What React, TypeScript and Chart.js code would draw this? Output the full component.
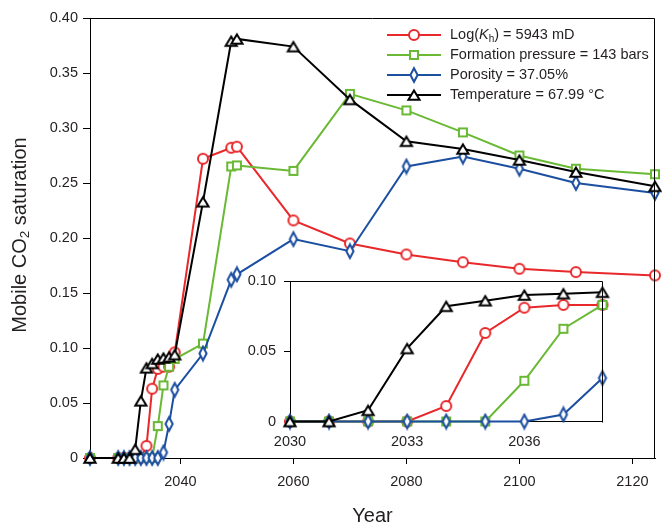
import React, { useEffect, useRef } from "react";
import { Chart, registerables } from "chart.js";

Chart.register(...registerables);

// Simulation output years and mobile CO2 saturation for each sensitivity case
const years = [2024, 2029, 2030, 2031, 2032, 2033, 2034, 2035, 2036, 2037, 2038, 2039, 2044, 2049, 2050, 2060, 2070, 2080, 2090, 2100, 2110, 2124];
const logKh = [0, 0, 0, 0, 0, 0, 0.011, 0.063, 0.081, 0.083, 0.083, 0.096, 0.272, 0.282, 0.283, 0.216, 0.195, 0.185, 0.178, 0.172, 0.169, 0.166];
const formationPressure = [0, 0, 0, 0, 0, 0, 0, 0, 0.029, 0.066, 0.083, 0.090, 0.104, 0.265, 0.266, 0.261, 0.331, 0.316, 0.296, 0.275, 0.263, 0.258];
const porosity = [0, 0, 0, 0, 0, 0, 0, 0, 0, 0.005, 0.031, 0.062, 0.095, 0.162, 0.167, 0.199, 0.188, 0.265, 0.274, 0.263, 0.250, 0.241];
const temperature = [0, 0, 0, 0, 0.008, 0.052, 0.082, 0.086, 0.090, 0.091, 0.092, 0.094, 0.233, 0.379, 0.381, 0.374, 0.326, 0.288, 0.281, 0.271, 0.260, 0.247];

// Axis ranges and tick labels
const xMin = 2024;
const xMax = 2124;
const xTicks = [2040, 2060, 2080, 2100, 2120];
const yMax = 0.4;
const yStep = 0.05;

// Zoomed-in view of the breakthrough period
const insetMin = 2030;
const insetMax = 2038;
const insetXTicks = [2030, 2033, 2036];
const insetYMax = 0.1;

const W = 662;
const H = 527;
const FONT = '"Liberation Sans", Arial, Helvetica, sans-serif';
const TEXT = "#231f20";

type MarkerKind = "circle" | "square" | "diamond" | "triangle";

const series = [
  { key: "logKh", values: logKh, color: "#e8282b", marker: "circle" as MarkerKind, order: 4 },
  { key: "pressure", values: formationPressure, color: "#6ab934", marker: "square" as MarkerKind, order: 3 },
  { key: "porosity", values: porosity, color: "#1c4fa0", marker: "diamond" as MarkerKind, order: 2 },
  { key: "temperature", values: temperature, color: "#000000", marker: "triangle" as MarkerKind, order: 1 },
];

function makeMarker(kind: MarkerKind, color: string): HTMLCanvasElement {
  const c = document.createElement("canvas");
  let w = 14, h = 14;
  if (kind === "square") { w = 12; h = 12; }
  if (kind === "diamond") { w = 12; h = 18; }
  if (kind === "triangle") { w = 16; h = 14; }
  c.width = w;
  c.height = h;
  const ctx = c.getContext("2d")!;
  ctx.lineWidth = 2;
  ctx.strokeStyle = color;
  ctx.fillStyle = "#ffffff";
  ctx.lineJoin = "miter";
  ctx.beginPath();
  if (kind === "circle") {
    ctx.arc(7, 7, 5, 0, Math.PI * 2);
  } else if (kind === "square") {
    ctx.rect(2, 2, 8, 8);
  } else if (kind === "diamond") {
    ctx.moveTo(6, 2.2);
    ctx.lineTo(9.6, 9);
    ctx.lineTo(6, 15.8);
    ctx.lineTo(2.4, 9);
    ctx.closePath();
  } else {
    ctx.moveTo(8, 2.5);
    ctx.lineTo(13.6, 11.8);
    ctx.lineTo(2.4, 11.8);
    ctx.closePath();
  }
  ctx.fill();
  ctx.stroke();
  return c;
}

function yLabel(v: number | string) {
  const n = Number(v);
  return Math.abs(n) < 1e-9 ? "0" : n.toFixed(2);
}

// Top and right edges of the plotting box
const frame = {
  id: "frame",
  afterDraw(chart: any) {
    const { ctx, chartArea: a } = chart;
    ctx.save();
    ctx.strokeStyle = "#000";
    ctx.lineWidth = 1;
    ctx.beginPath();
    ctx.moveTo(Math.round(a.left) + 0.5, Math.round(a.top) + 0.5);
    ctx.lineTo(Math.round(a.right) - 0.5, Math.round(a.top) + 0.5);
    ctx.lineTo(Math.round(a.right) - 0.5, Math.round(a.bottom) + 0.5);
    ctx.stroke();
    ctx.restore();
  },
};

function drawRuns(ctx: CanvasRenderingContext2D, x: number, y: number, runs: { t: string; font: string; dy?: number }[]) {
  let cx = x;
  for (const r of runs) {
    ctx.font = r.font;
    ctx.fillText(r.t, cx, y + (r.dy || 0));
    cx += ctx.measureText(r.t).width;
  }
  return cx - x;
}

function measureRuns(ctx: CanvasRenderingContext2D, runs: { t: string; font: string }[]) {
  let w = 0;
  for (const r of runs) {
    ctx.font = r.font;
    w += ctx.measureText(r.t).width;
  }
  return w;
}

export default function App() {
  const mainRef = useRef<HTMLCanvasElement>(null);
  const insetRef = useRef<HTMLCanvasElement>(null);

  useEffect(() => {
    const markers = series.map((s) => makeMarker(s.marker, s.color));
    const f14 = `14.5px ${FONT}`;
    const f14i = `italic 14.5px ${FONT}`;
    const f10 = `10px ${FONT}`;
    const f20 = `20px ${FONT}`;
    const f13 = `13.5px ${FONT}`;

    const legendRows = [
      [
        { t: "Log(", font: f14 },
        { t: "K", font: f14i },
        { t: "h", font: f10, dy: 4 },
        { t: ") = 5943 mD", font: f14 },
      ],
      [{ t: "Formation pressure = 143 bars", font: f14 }],
      [{ t: "Porosity = 37.05%", font: f14 }],
      [{ t: "Temperature = 67.99 °C", font: f14 }],
    ];

    const legendAndTitles = {
      id: "legendAndTitles",
      afterDraw(chart: any) {
        const ctx: CanvasRenderingContext2D = chart.ctx;
        const a = chart.chartArea;
        ctx.save();
        // legend
        legendRows.forEach((runs, i) => {
          const y = 35 + i * 20;
          const s = series[i];
          ctx.strokeStyle = s.color;
          ctx.lineWidth = 2;
          ctx.beginPath();
          ctx.moveTo(387, y);
          ctx.lineTo(441, y);
          ctx.stroke();
          const m = markers[i];
          ctx.drawImage(m, Math.round(414 - m.width / 2), Math.round(y - m.height / 2));
          ctx.fillStyle = TEXT;
          ctx.textBaseline = "middle";
          ctx.textAlign = "left";
          drawRuns(ctx, 450, y, runs);
        });
        // x title
        ctx.fillStyle = TEXT;
        ctx.font = f20;
        ctx.textAlign = "center";
        ctx.textBaseline = "middle";
        ctx.fillText("Year", (a.left + a.right) / 2, 516);
        // y title with subscript
        const yRuns = [
          { t: "Mobile CO", font: f20 },
          { t: "2", font: f13, dy: 5 },
          { t: " saturation", font: f20 },
        ];
        ctx.translate(20, 235);
        ctx.rotate(-Math.PI / 2);
        ctx.textAlign = "left";
        const tw = measureRuns(ctx, yRuns);
        drawRuns(ctx, -tw / 2, 0, yRuns);
        ctx.restore();
      },
    };

    const tickFont = { family: FONT, size: 14.5 };

    const main = new Chart(mainRef.current!, {
      type: "line",
      data: {
        datasets: series.map((s, i) => ({
          label: s.key,
          data: years.map((x, j) => ({ x, y: s.values[j] })),
          borderColor: s.color,
          backgroundColor: "#ffffff",
          borderWidth: 2,
          pointStyle: markers[i],
          pointRadius: 5,
          tension: 0,
          clip: false as any,
          order: s.order,
        })),
      },
      options: {
        responsive: false,
        animation: false,
        devicePixelRatio: 1,
        events: [],
        layout: { padding: { left: 0, right: 3, top: 18, bottom: 0 } },
        plugins: { legend: { display: false }, tooltip: { enabled: false } },
        scales: {
          x: {
            type: "linear",
            min: xMin,
            max: xMax,
            afterBuildTicks: (s: any) => {
              s.ticks = xTicks.map((v) => ({ value: v }));
            },
            afterFit: (s: any) => {
              s.height = 69;
            },
            grid: { drawOnChartArea: false, drawTicks: true, tickLength: 6, color: "#000", lineWidth: 1 },
            border: { display: true, color: "#000", width: 1 },
            ticks: {
              color: TEXT,
              font: tickFont,
              padding: 9,
              maxRotation: 0,
              autoSkip: false,
              callback: (v: any) => String(v),
            },
          },
          y: {
            type: "linear",
            min: 0,
            max: yMax,
            afterFit: (s: any) => {
              s.width = 90;
            },
            grid: { drawOnChartArea: false, drawTicks: true, tickLength: 7, color: "#000", lineWidth: 1 },
            border: { display: true, color: "#000", width: 1 },
            ticks: {
              stepSize: yStep,
              color: TEXT,
              font: tickFont,
              padding: 5,
              callback: (v: any) => yLabel(v),
            },
          },
        },
      },
      plugins: [frame, legendAndTitles],
    });

    const inset = new Chart(insetRef.current!, {
      type: "line",
      data: {
        datasets: series.map((s, i) => ({
          label: s.key,
          data: years
            .map((x, j) => ({ x, y: s.values[j] }))
            .filter((p) => p.x >= insetMin && p.x <= insetMax),
          borderColor: s.color,
          backgroundColor: "#ffffff",
          borderWidth: 2,
          pointStyle: markers[i],
          pointRadius: 5,
          tension: 0,
          clip: false as any,
          order: s.order,
        })),
      },
      options: {
        responsive: false,
        animation: false,
        devicePixelRatio: 1,
        events: [],
        layout: { padding: { left: 240, right: 59.5, top: 281, bottom: 65.5 } },
        plugins: { legend: { display: false }, tooltip: { enabled: false } },
        scales: {
          x: {
            type: "linear",
            min: insetMin,
            max: insetMax,
            afterBuildTicks: (s: any) => {
              s.ticks = insetXTicks.map((v) => ({ value: v }));
            },
            afterFit: (s: any) => {
              s.height = 40;
            },
            grid: { drawOnChartArea: false, drawTicks: false, color: "#000" },
            border: { display: true, color: "#000", width: 1 },
            ticks: {
              color: TEXT,
              font: tickFont,
              padding: 12,
              maxRotation: 0,
              autoSkip: false,
              callback: (v: any) => String(v),
            },
          },
          y: {
            type: "linear",
            min: 0,
            max: insetYMax,
            afterFit: (s: any) => {
              s.width = 50;
            },
            grid: { drawOnChartArea: false, drawTicks: true, tickLength: 6, color: "#000", lineWidth: 1 },
            border: { display: true, color: "#000", width: 1 },
            ticks: {
              stepSize: yStep,
              color: TEXT,
              font: tickFont,
              padding: 8,
              callback: (v: any) => yLabel(v),
            },
          },
        },
      },
      plugins: [frame],
    });

    return () => {
      main.destroy();
      inset.destroy();
    };
  }, []);

  return (
    <div style={{ position: "fixed", left: 0, top: 0, width: W, height: H, background: "#ffffff" }}>
      <canvas ref={mainRef} width={W} height={H} style={{ position: "absolute", left: 0, top: 0 }} />
      <canvas ref={insetRef} width={W} height={H} style={{ position: "absolute", left: 0, top: 0 }} />
    </div>
  );
}
